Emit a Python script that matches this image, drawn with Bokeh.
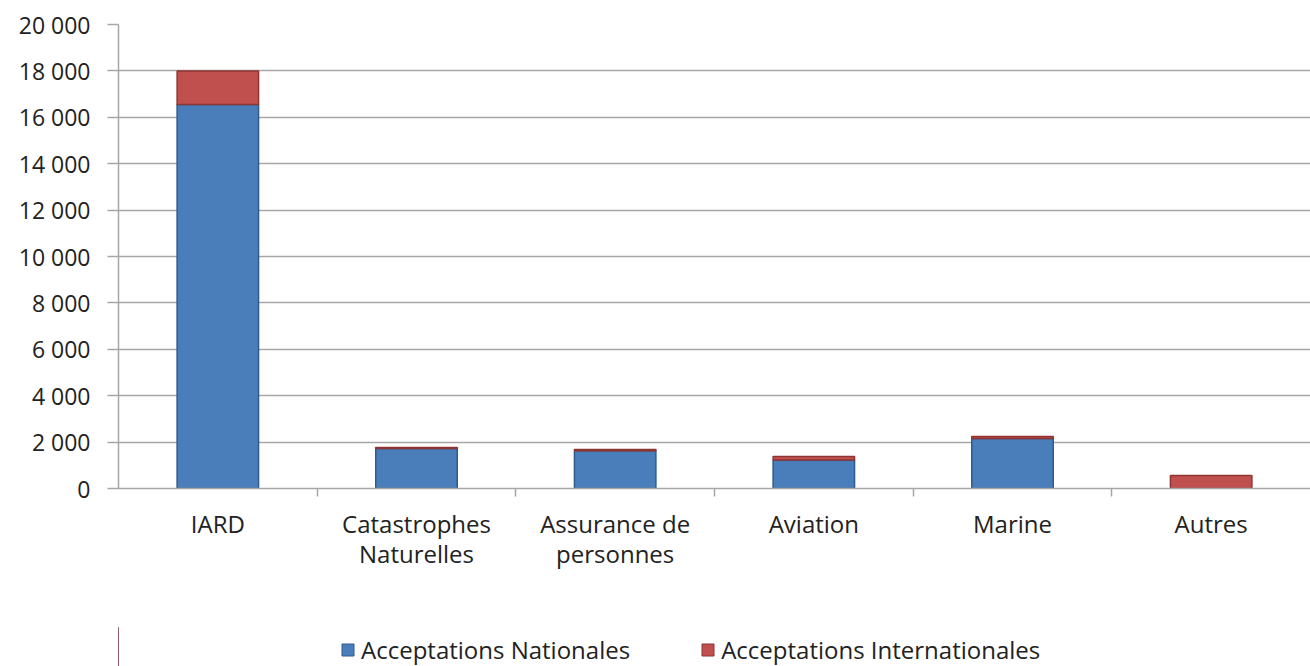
from bokeh.plotting import figure
from bokeh.layouts import column
from bokeh.models import ColumnDataSource, FixedTicker, Legend, LegendItem, Range1d
from bokeh.embed import file_html
from bokeh.resources import INLINE

categories = ["IARD", "Catastrophes\nNaturelles", "Assurance de\npersonnes", "Aviation", "Marine", "Autres"]
nationales = [16550, 1720, 1630, 1230, 2160, 0]
internationales = [1450, 50, 50, 150, 80, 560]
series_names = ["Acceptations Nationales", "Acceptations Internationales"]
y_ticks = [0, 2000, 4000, 6000, 8000, 10000, 12000, 14000, 16000, 18000, 20000]
y_labels = ["0", "2 000", "4 000", "6 000", "8 000", "10 000", "12 000", "14 000", "16 000", "18 000", "20 000"]

FONT = "Open Sans"
BLUE, BLUE_EDGE = "#4A7EBB", "#2F5B8C"
RED, RED_EDGE = "#C0504D", "#8E3533"

xs = [i + 0.5 for i in range(len(categories))]
tops_i = [a + b for a, b in zip(nationales, internationales)]
src = ColumnDataSource(dict(x=xs, n=nationales, b0=[0] * len(xs), t=tops_i))

p = figure(frame_width=1192, frame_height=464, output_backend="svg", toolbar_location=None,
           x_range=Range1d(0, 6), y_range=Range1d(0, 20000),
           min_border_left=118, min_border_right=0, min_border_top=24, min_border_bottom=100)
p.outline_line_color = None
p.background_fill_color = "white"
p.border_fill_color = "white"

p.vbar(x="x", bottom="b0", top="n", width=0.41, source=src,
       fill_color=BLUE, line_color=BLUE_EDGE, line_width=1.5)
p.vbar(x="x", bottom="n", top="t", width=0.41, source=src,
       fill_color=RED, line_color=RED_EDGE, line_width=1.5)

# y axis
p.yaxis.ticker = FixedTicker(ticks=y_ticks)
p.yaxis.major_label_overrides = {t: l for t, l in zip(y_ticks, y_labels)}
p.yaxis.axis_line_color = "#A6A6A6"
p.yaxis.axis_line_width = 1.5
p.yaxis.major_tick_line_color = "#A6A6A6"
p.yaxis.major_tick_line_width = 1.5
p.yaxis.major_tick_in = 0
p.yaxis.major_tick_out = 11
p.yaxis.minor_tick_line_color = None
p.yaxis.major_label_text_font = FONT
p.yaxis.major_label_text_font_size = "23px"
p.yaxis.major_label_text_color = "#222222"
p.yaxis.major_label_standoff = 17

# x axis
p.xaxis.ticker = FixedTicker(ticks=xs, minor_ticks=[1, 2, 3, 4, 5])
p.xaxis.major_label_overrides = {x: c for x, c in zip(xs, categories)}
p.xaxis.axis_line_color = "#A6A6A6"
p.xaxis.axis_line_width = 1.5
p.xaxis.major_tick_line_color = None
p.xaxis.minor_tick_line_color = "#A6A6A6"
p.xaxis.minor_tick_line_width = 1.5
p.xaxis.minor_tick_in = 0
p.xaxis.minor_tick_out = 8
p.xaxis.major_label_text_font = FONT
p.xaxis.major_label_text_font_size = "24px"
p.xaxis.major_label_text_color = "#222222"
p.xaxis.major_label_text_line_height = 0.92
p.xaxis.major_label_standoff = 10

p.xgrid.grid_line_color = None
p.ygrid.ticker = FixedTicker(ticks=y_ticks)
p.ygrid.grid_line_color = "#A6A6A6"
p.ygrid.grid_line_width = 1.5

# legend strip below the chart (frame aligned with the chart frame)
pl = figure(frame_width=1192, height=78, output_backend="svg", toolbar_location=None,
            x_axis_type=None, y_axis_type=None,
            x_range=Range1d(0, 1), y_range=Range1d(0, 1),
            min_border_left=118, min_border_right=0, min_border_top=0, min_border_bottom=0)
pl.outline_line_color = None
pl.grid.grid_line_color = None
# swatch renderers kept outside the visible range; they only feed the legend
swatch = ColumnDataSource(dict(x=[-5.0], top=[0.5]))
d1 = pl.vbar(x="x", top="top", width=0.1, source=swatch, fill_color=BLUE, line_color=BLUE_EDGE)
d2 = pl.vbar(x="x", top="top", width=0.1, source=swatch, fill_color=RED, line_color=RED_EDGE)

legend = Legend(items=[LegendItem(label=series_names[0], renderers=[d1]),
                       LegendItem(label=series_names[1], renderers=[d2])],
                orientation="horizontal", location=(222, 0))
legend.label_text_font = FONT
legend.label_text_font_size = "24px"
legend.label_text_color = "#222222"
legend.glyph_width = 15
legend.glyph_height = 15
legend.spacing = 70
legend.label_standoff = 6
legend.label_height = 24
legend.border_line_color = None
legend.background_fill_alpha = 0
legend.margin = 0
legend.padding = 0
pl.add_layout(legend, "center")

layout = column(p, pl, spacing=0)

open("out.html", "w").write(file_html(layout, INLINE))
